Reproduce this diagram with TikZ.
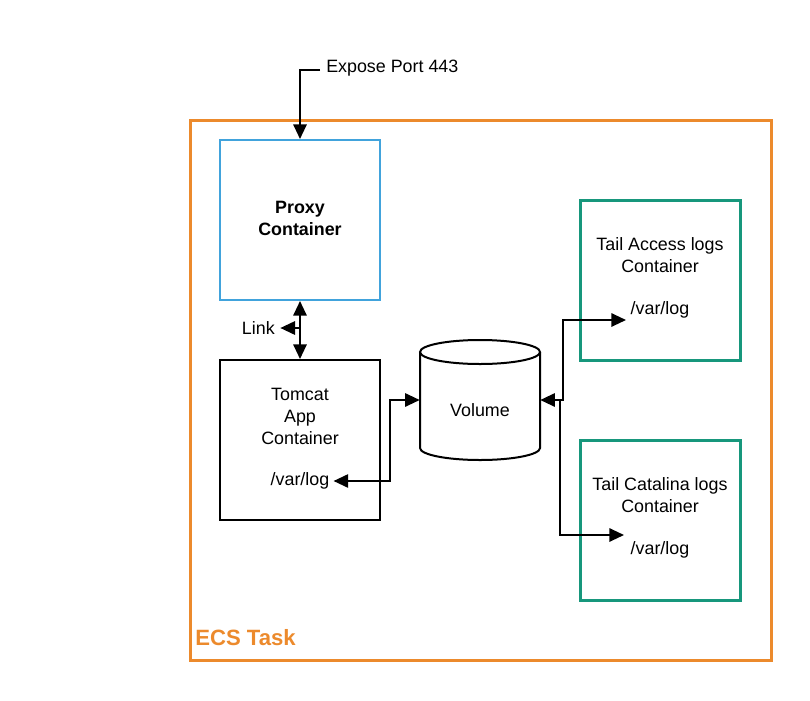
\documentclass[tikz,border=0pt]{standalone}
\usepackage{fontspec}
\setmainfont{Liberation Sans}
\usetikzlibrary{arrows.meta}
\definecolor{ecsorange}{HTML}{EC8A2C}
\definecolor{proxyblue}{HTML}{41A3DC}
\definecolor{tealc}{HTML}{17977C}
\begin{document}
\begin{tikzpicture}[x=0.75pt,y=-0.75pt,
  lbl/.style={font=\fontsize{13.4pt}{16pt}\selectfont, align=center, inner sep=0pt},
  mlbl/.style={lbl, font=\fontsize{13.4pt}{16.5pt}\selectfont},
  box/.style={draw, minimum width=120pt, minimum height=120pt, inner sep=0pt},
  tip/.tip={Triangle[length=11pt,width=10pt]},
  conn/.style={line width=1.5pt, -tip},
  dconn/.style={line width=1.5pt, tip-tip}
]
\useasboundingbox (0,0) rectangle (810,700);
% ECS task frame
\node[draw=ecsorange, line width=2.25pt, minimum width=435.75pt, minimum height=405pt, inner sep=0pt] (ecs) at (480.5,390) {};
\node[anchor=west, text=ecsorange, font=\bfseries\fontsize{16.6pt}{20pt}\selectfont, inner sep=0pt] (ecslbl) at (195,638) {ECS Task};
% Proxy
\node[box, draw=proxyblue, line width=1.5pt] (proxy) at (300,220) {};
\node[lbl, font=\bfseries\fontsize{13.4pt}{16.5pt}\selectfont] (proxylbl) at (300,218) {Proxy\\Container};
% Tomcat
\node[box, line width=1.5pt] (tomcat) at (300,440) {};
\node[mlbl] (tomcatlbl) at (300,416) {Tomcat\\App\\Container};
\node[lbl] (tlog) at (300,481) {/var/log};
% Tail access
\node[box, draw=tealc, line width=2.25pt] (access) at (660,280) {};
\node[mlbl] (accesslbl) at (660,255) {Tail Access logs\\Container};
\node[lbl] (alog) at (660,310) {/var/log};
% Tail catalina
\node[box, draw=tealc, line width=2.25pt] (catalina) at (660,520) {};
\node[mlbl] (catalinalbl) at (660,495) {Tail Catalina logs\\Container};
\node[lbl] (clog) at (660,550) {/var/log};
% Volume cylinder
\draw[line width=1.5pt, fill=white] (420,352) -- (420,448) arc[start angle=180, end angle=0, x radius=60, y radius=12] -- (540,352);
\draw[line width=1.5pt, fill=white] (480,352) ellipse[x radius=60, y radius=12];
\node[minimum width=90pt, minimum height=80pt, inner sep=0pt] (vol) at (480,400) {};
\node[lbl] (vollbl) at (480,410) {Volume};
% Expose port
\node[lbl, anchor=west] (expose) at (326,68) {Expose Port 443};
\coordinate (e1) at (300,70);
\draw[conn] (expose.west |- e1) ++(-6,0) -- (e1) -- (proxy.north);
% Link
\draw[dconn] (proxy.south) -- (tomcat.north);
\node[lbl, anchor=east] (link) at (275,328) {Link};
\coordinate (lk) at (300,328);
\draw[conn] (lk) -- ([xshift=4pt]link.east);
% Tomcat log <-> volume
\coordinate (t1) at (390,481);
\coordinate (t2) at (390,400);
\draw[dconn] (tlog.east) ++(4,0) -- (t1) -- (t2) -- (vol.west);
% Volume <-> access
\coordinate (a1) at (563,400);
\coordinate (a2) at (563,320);
\coordinate (a3) at (626,320);
\draw[dconn] (vol.east) -- (a1) -- (a2) -- (a3);
% Volume <-> catalina
\coordinate (c1) at (560,400);
\coordinate (c2) at (560,535);
\coordinate (c3) at (624,535);
\draw[conn] (c1) -- (c2) -- (c3);
\end{tikzpicture}
\end{document}
